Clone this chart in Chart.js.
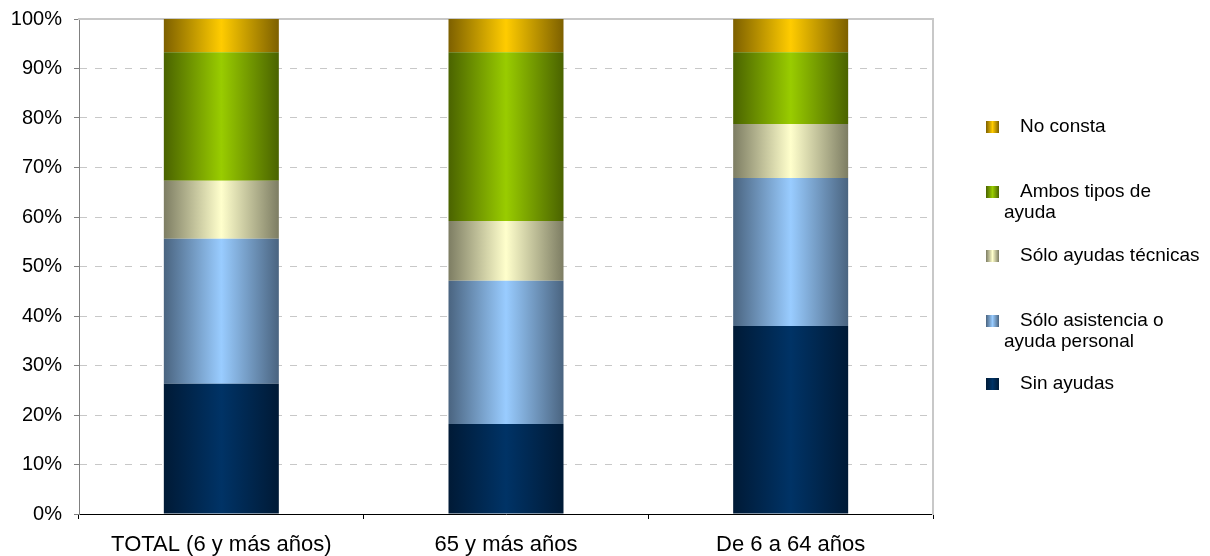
<!DOCTYPE html>
<html>
<head>
<meta charset="utf-8">
<script src="https://cdn.jsdelivr.net/npm/chart.js@4"></script>
<style>
  html, body { margin: 0; padding: 0; background: #fff; }
  #wrap { width: 1210px; height: 556px; }
</style>
</head>
<body>
<div id="wrap"><canvas id="chart"></canvas></div>
<script>
// Data
const categories = ["TOTAL (6 y más años)", "65 y más años", "De 6 a 64 años"];
const sinAyudas = [26.3, 18.2, 38.0];
const soloAsistencia = [29.3, 28.9, 29.9];
const soloTecnicas = [11.7, 12.1, 10.9];
const ambosTipos = [26.0, 34.1, 14.5];
const noConsta = [6.7, 6.7, 6.7];
const yTicks = [0, 10, 20, 30, 40, 50, 60, 70, 80, 90, 100];

// Legend texts, top to bottom, already wrapped like the original
const legendLines = [
  ["No consta"],
  ["Ambos tipos de", "ayuda"],
  ["Sólo ayudas técnicas"],
  ["Sólo asistencia o", "ayuda personal"],
  ["Sin ayudas"],
];

// Colours: [edge, centre] of the horizontal gradient
const COLORS = {
  sin: ["#001a36", "#003366"],
  asistencia: ["#4a6480", "#99ccff"],
  tecnicas: ["#7d7d63", "#ffffcc"],
  ambos: ["#4a6300", "#99cc00"],
  noConsta: ["#7d6000", "#ffcc00"],
};
const LEGEND_COLORS = [COLORS.noConsta, COLORS.ambos, COLORS.tecnicas, COLORS.asistencia, COLORS.sin];

const BAR_PCT = 0.404;
const FONT = "'Liberation Sans', Arial, sans-serif";

// Gradient across each bar, dark edges and bright middle
const barGradient = (colors) => (ctx) => {
  const chart = ctx.chart;
  if (!chart.chartArea || ctx.type !== "data") return colors[1];
  const xs = chart.scales.x;
  const center = xs.getPixelForValue(ctx.dataIndex);
  const half = (xs.width / categories.length) * BAR_PCT / 2;
  const g = chart.ctx.createLinearGradient(center - half, 0, center + half, 0);
  g.addColorStop(0, colors[0]);
  g.addColorStop(0.5, colors[1]);
  g.addColorStop(1, colors[0]);
  return g;
};

const makeDataset = (label, data, colors) => ({
  label,
  data,
  backgroundColor: barGradient(colors),
  borderWidth: 0,
  barPercentage: BAR_PCT,
  categoryPercentage: 1,
  stack: "s",
});

// y scales should not push the plot area down for their end labels
const noVerticalPadding = (scale) => {
  scale.paddingTop = 0;
  scale.paddingBottom = 0;
};

// Legend on the right, drawn like the original (marker + indented text)
const sideLegend = {
  id: "sideLegend",
  afterDraw(chart) {
    const ctx = chart.ctx;
    const firstY = [127, 192, 256, 321, 384];
    ctx.save();
    ctx.font = "19px " + FONT;
    ctx.fillStyle = "#000";
    ctx.textBaseline = "middle";
    legendLines.forEach((lines, i) => {
      const y = firstY[i];
      const c = LEGEND_COLORS[i];
      const g = ctx.createLinearGradient(986, 0, 999, 0);
      g.addColorStop(0, c[0]);
      g.addColorStop(0.5, c[1]);
      g.addColorStop(1, c[0]);
      ctx.fillStyle = g;
      ctx.fillRect(986, y - 6, 13, 12);
      ctx.fillStyle = "#000";
      lines.forEach((line, j) => {
        ctx.fillText(line, j === 0 ? 1020 : 1004, y + j * 21);
      });
    });
    ctx.restore();
  },
};

new Chart(document.getElementById("chart"), {
  type: "bar",
  data: {
    labels: categories,
    datasets: [
      makeDataset("Sin ayudas", sinAyudas, COLORS.sin),
      makeDataset("Sólo asistencia o ayuda personal", soloAsistencia, COLORS.asistencia),
      makeDataset("Sólo ayudas técnicas", soloTecnicas, COLORS.tecnicas),
      makeDataset("Ambos tipos de ayuda", ambosTipos, COLORS.ambos),
      makeDataset("No consta", noConsta, COLORS.noConsta),
    ],
  },
  options: {
    responsive: true,
    maintainAspectRatio: false,
    animation: false,
    layout: { padding: { left: 0, top: 19, right: 277, bottom: 0 } },
    plugins: {
      legend: { display: false },
      tooltip: { enabled: false },
    },
    scales: {
      x: {
        stacked: true,
        afterFit: (scale) => { scale.height = 42; },
        grid: {
          offset: true,
          drawOnChartArea: false,
          tickLength: 5,
          tickColor: "#000",
        },
        border: { color: "#000", width: 1 },
        ticks: {
          color: "#000",
          padding: 13,
          font: { family: FONT, size: 22 },
        },
      },
      y: {
        stacked: true,
        min: 0,
        max: 100,
        afterFit: (scale) => { scale.width = 79; noVerticalPadding(scale); },
        afterBuildTicks: (scale) => { scale.ticks = yTicks.map((v) => ({ value: v })); },
        grid: {
          color: (c) => (c.tick && (c.tick.value === 0 || c.tick.value === 100) ? "rgba(0,0,0,0)" : "#c8c8c8"),
          lineWidth: 1,
          tickLength: 5,
          tickColor: "#808080",
          tickBorderDash: [],
        },
        border: { color: "#808080", width: 1, dash: [7, 8] },
        ticks: {
          color: "#000",
          padding: 12,
          font: { family: FONT, size: 20 },
          callback: (v) => v + "%",
        },
      },
      top: {
        type: "category",
        position: "top",
        afterFit: (scale) => { scale.height = 0; },
        grid: { display: false, drawTicks: false },
        ticks: { display: false },
        border: { color: "#c8c8c8", width: 2 },
      },
      right: {
        type: "linear",
        position: "right",
        min: 0,
        max: 100,
        afterFit: (scale) => { scale.width = 0; noVerticalPadding(scale); },
        grid: { display: false, drawTicks: false },
        ticks: { display: false },
        border: { color: "#c8c8c8", width: 2 },
      },
    },
  },
  plugins: [sideLegend],
});
</script>
</body>
</html>
